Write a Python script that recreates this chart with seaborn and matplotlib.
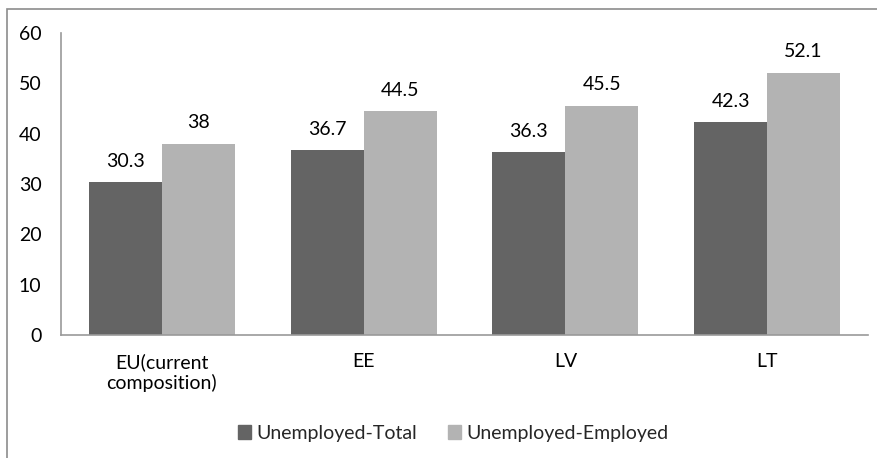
import matplotlib
matplotlib.use('Agg')
import matplotlib.pyplot as plt
import matplotlib.patches as mpatches
import seaborn as sns
import pandas as pd

categories = ['EU(current\ncomposition)', 'EE', 'LV', 'LT']
series = ['Unemployed-Total', 'Unemployed-Employed']
unemployed_total = [30.3, 36.7, 36.3, 42.3]
unemployed_employed = [38, 44.5, 45.5, 52.1]
value_labels = [['30.3', '36.7', '36.3', '42.3'], ['38', '44.5', '45.5', '52.1']]
colors = ['#646464', '#b3b3b3']

df = pd.DataFrame({
    'cat': categories * 2,
    'series': [series[0]] * 4 + [series[1]] * 4,
    'value': unemployed_total + unemployed_employed,
})

sns.set_style('white')
plt.rcParams['font.family'] = ['Lato', 'DejaVu Sans']
fs = 14

fig = plt.figure(figsize=(8.77, 4.58), dpi=100)
ax = fig.add_axes([61 / 877, 1 - 335 / 458, (868 - 61) / 877, (335 - 33) / 458])

sns.barplot(data=df, x='cat', y='value', hue='series', palette=colors,
            width=0.724, saturation=1, ax=ax, legend=False)

for cont, labs in zip(ax.containers, value_labels):
    for p in cont.patches:
        p.set_edgecolor('none')
    ax.bar_label(cont, labels=labs, padding=9, fontsize=fs, color='#000000')

ax.set_ylim(0, 60)
ax.set_xlim(-0.5, 3.5)
ax.set_yticks(range(0, 61, 10))
ax.set_xlabel('')
ax.set_ylabel('')
ax.tick_params(axis='y', length=0, pad=14, labelsize=fs, labelcolor='#000000')
ax.tick_params(axis='x', length=0, pad=13, labelsize=fs, labelcolor='#000000')
sns.despine(ax=ax)
for s in ['left', 'bottom']:
    ax.spines[s].set_color('#999999')
    ax.spines[s].set_linewidth(1.2)

handles = [mpatches.Patch(color=c, label=s) for c, s in zip(colors, series)]
fig.legend(handles=handles, loc='center', bbox_to_anchor=(453 / 877, 1 - 433 / 458),
           ncol=2, frameon=False, fontsize=fs, handlelength=0.7, handleheight=0.7,
           handletextpad=0.25, columnspacing=1.6)

# outer frame of the chart area
frame = mpatches.Rectangle((7 / 877, -0.1), 1.2, 1 - 9 / 458 + 0.1, transform=fig.transFigure,
                           fill=False, edgecolor='#8c8c8c', linewidth=1.2)
fig.patches.append(frame)

fig.savefig('out.png', dpi=100, facecolor='white')
